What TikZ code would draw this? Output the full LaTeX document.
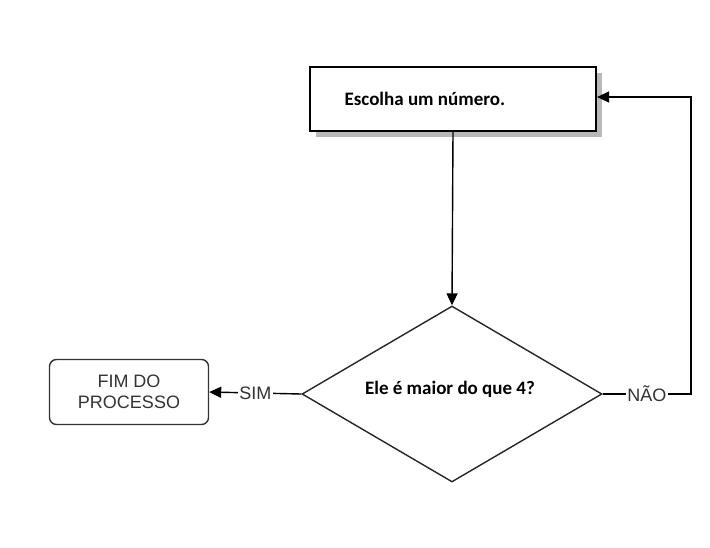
\documentclass[tikz,border=0pt]{standalone}
\usepackage{fontspec}
\setmainfont{Liberation Sans}
\newfontfamily\calfont{Carlito}
\usetikzlibrary{shapes.geometric}
\usetikzlibrary{arrows.meta}
\tikzset{
  step box/.style = {draw=#1, line width=2.2pt, fill=white, minimum width=286pt, minimum height=64pt,
    font=\calfont\bfseries\fontsize{19}{22}\selectfont},
  decision/.style = {diamond, draw=#1, line width=1.4pt, fill=white, minimum width=300pt, minimum height=176pt,
    inner sep=0pt, aspect=1.7, font=\calfont\bfseries\fontsize{19}{22}\selectfont},
  end box/.style = {draw=#1, line width=1.4pt, rounded corners=7pt, minimum width=159pt, minimum height=65pt,
    align=center, text=black!80, font=\fontsize{18}{21}\selectfont},
  flow/.style = {color=#1, line width=1.4pt, -{Triangle[length=12pt,width=11pt]}},
  line label/.style = {fill=white, inner sep=1.5pt, text=black!80, font=\fontsize{18}{21}\selectfont}
}
\begin{document}
\begin{tikzpicture}[x=1pt, y=-1pt]
    \useasboundingbox (0,0) rectangle (710,547);

    % Shadow
    \fill[gray!55] (316,73) rectangle (602,137);

    % Nodes
    \node[step box={black}] (choose) at (453,99) {};
    \node[anchor=west, font=\calfont\bfseries\fontsize{19}{22}\selectfont] (chooseText) at (341,99) {Escolha um número.};
    \node[decision={black!85}] (test) at (452,394) {};
    \node[font=\calfont\bfseries\fontsize{19}{22}\selectfont] (testText) at (450,389) {Ele é maior do que 4?};
    \node[end box={black!80}] (finish) at (129,392) {FIM DO\\PROCESSO};
    \coordinate (turn1) at (691,394);
    \coordinate (turn2) at (691,97);

    % Connectors
    \draw[flow={black}] (choose.south) -- (test.north);
    \draw[flow={black}] (test.west) -- node[line label] {SIM} (finish.east);
    \draw[flow={black}] (test.east) -- node[line label] {NÃO} (turn1) -- (turn2) -- (choose.east |- turn2);

\end{tikzpicture}
\end{document}
